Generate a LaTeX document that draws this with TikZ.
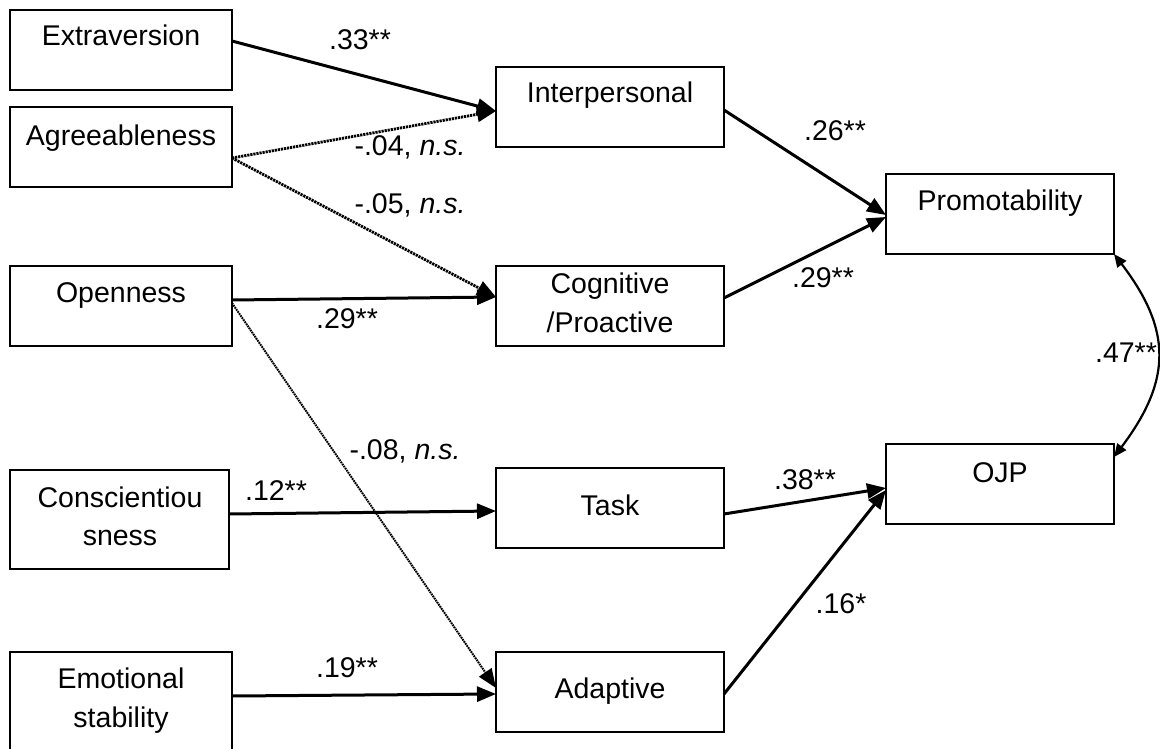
\documentclass[tikz,border=0pt]{standalone}
\usepackage{fontspec}
\setmainfont{Liberation Sans}
\usetikzlibrary{arrows.meta}
\begin{document}
\begin{tikzpicture}[x=1pt,y=-1pt,
  box/.style={draw,line width=1.8pt,inner sep=0pt,outer sep=0pt,minimum height=80pt},
  lbox/.style={box,minimum width=222pt},
  rbox/.style={box,minimum width=228pt},
  txt/.style={anchor=base,inner sep=0pt,font=\fontsize{28.5}{34}\selectfont},
  tip/.style={-{Triangle[length=19pt,width=15pt]}},
  arr/.style={tip,line width=3pt},
  dotarr/.style={tip,line width=2.8pt,dash pattern=on 2.2pt off 0.9pt},
  thindot/.style={tip,line width=2pt,dash pattern=on 1.7pt off 0.8pt},
  corr/.style={line width=2.2pt,{Triangle[length=13pt,width=11pt]}-{Triangle[length=13pt,width=11pt]}}]
\useasboundingbox (0,0) rectangle (1160,749);

% personality traits
\node[lbox] (ext) at (121,50) {};
\node[lbox] (agr) at (121,147) {};
\node[lbox] (opn) at (121,306) {};
\node[box,minimum width=219pt,minimum height=99pt] (con) at (119.5,519.5) {};
\node[box,minimum width=222pt,minimum height=100pt] (emo) at (121,702) {};
\node[txt] (ext-t) at (121,46) {Extraversion};
\node[txt] (agr-t) at (121,146) {Agreeableness};
\node[txt] (opn-t) at (121,302) {Openness};
\node[txt] (con-t1) at (120,507) {Conscientiou};
\node[txt] (con-t2) at (120,545) {sness};
\node[txt] (emo-t1) at (121,688) {Emotional};
\node[txt] (emo-t2) at (121,727) {stability};

% performance dimensions
\node[rbox] (int) at (610,107) {};
\node[rbox] (cog) at (610,306) {};
\node[rbox] (task) at (610,508) {};
\node[rbox] (adp) at (610,692) {};
\node[txt] (int-t) at (610,103) {Interpersonal};
\node[txt] (cog-t1) at (610,293) {Cognitive};
\node[txt] (cog-t2) at (610,332) {/Proactive};
\node[txt] (task-t) at (610,515) {Task};
\node[txt] (adp-t) at (610,698) {Adaptive};

% outcomes
\node[rbox] (prm) at (1000,214) {};
\node[rbox] (ojp) at (1000,484) {};
\node[txt] (prm-t) at (1000,211) {Promotability};
\node[txt] (ojp-t) at (1000,482) {OJP};

% paths
\draw[arr] ([yshift=9pt]ext.east) -- ([yshift=-4pt]int.west);
\draw[dotarr] ([yshift=-11pt]agr.east) -- ([yshift=-4pt]int.west);
\draw[dotarr] ([yshift=-11pt]agr.east) -- ([yshift=9pt]cog.west);
\draw[arr] ([yshift=6pt]opn.east) -- ([yshift=9pt]cog.west);
\draw[thindot] ([yshift=3pt]opn.east) -- ([yshift=4pt]adp.west);
\draw[arr] ([yshift=5.5pt]con.east) -- ([yshift=-3pt]task.west);
\draw[arr] ([yshift=6pt]emo.east) -- ([yshift=-2pt]adp.west);
\draw[arr] ([yshift=-3pt]int.east) -- ([yshift=-1pt]prm.west);
\draw[arr] ([yshift=8pt]cog.east) -- ([yshift=-3pt]prm.west);
\draw[arr] ([yshift=-6pt]task.east) -- ([yshift=-4pt]ojp.west);
\draw[arr] ([yshift=-2pt]adp.east) -- ([yshift=-6pt]ojp.west);
\draw[corr] (prm.south east) .. controls ([xshift=58pt,yshift=-76pt]prm.south east)
  and ([xshift=58pt,yshift=64pt]ojp.north east) .. ([yshift=-13pt]ojp.north east);

% coefficients
\node[txt] (l-ext) at (360,50) {.33**};
\node[txt] (l-agr1) at (410,156) {-.04, \textit{n.s.}};
\node[txt] (l-agr2) at (410,213) {-.05, \textit{n.s.}};
\node[txt] (l-opn1) at (347,328) {.29**};
\node[txt] (l-opn2) at (405,459) {-.08, \textit{n.s.}};
\node[txt] (l-con) at (276,500) {.12**};
\node[txt] (l-emo) at (347,677) {.19**};
\node[txt] (l-int) at (835,141) {.26**};
\node[txt] (l-cog) at (823,287) {.29**};
\node[txt] (l-task) at (805,489) {.38**};
\node[txt] (l-adp) at (841,613) {.16*};
\node[txt] (l-corr) at (1126,362) {.47**};
\end{tikzpicture}
\end{document}
